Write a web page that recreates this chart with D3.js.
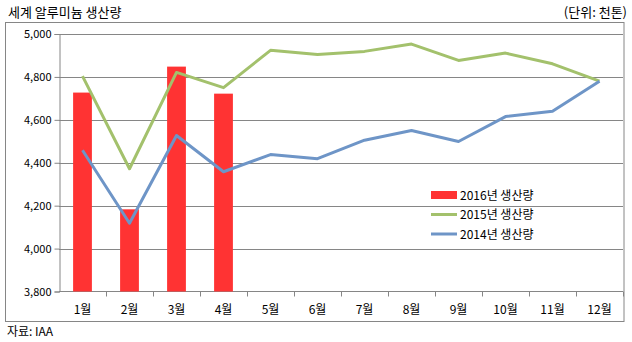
<!DOCTYPE html>
<html>
<head>
<meta charset="utf-8">
<script src="https://cdn.jsdelivr.net/npm/d3@7"></script>
<style>
  html, body { margin: 0; padding: 0; background: #fff; }
  svg { display: block; }
  text { font-family: "Noto Sans CJK KR", "Noto Sans", sans-serif; fill: #000; }
</style>
</head>
<body>
<svg id="chart" width="632" height="342"></svg>
<script>
// 월별 세계 알루미늄 생산량 (천톤)
const months = ["1월","2월","3월","4월","5월","6월","7월","8월","9월","10월","11월","12월"];
const prod2016 = [4727, 4183, 4848, 4722];
const prod2015 = [4804, 4372, 4821, 4750, 4924, 4905, 4919, 4953, 4877, 4911, 4861, 4780];
const prod2014 = [4458, 4118, 4527, 4358, 4438, 4419, 4505, 4550, 4499, 4615, 4640, 4780];
const yTicks = [3800, 4000, 4200, 4400, 4600, 4800, 5000];

const svg = d3.select("#chart");
const plot = { left: 59, right: 623, top: 34, bottom: 291.5 };

const x = d3.scaleBand().domain(months).range([plot.left, plot.right]).paddingInner(0).paddingOuter(0);
const y = d3.scaleLinear().domain([3800, 5000]).range([plot.bottom, plot.top]);

const grey = "#868686";

// 제목과 단위
svg.append("text").attr("x", 8).attr("y", 17).attr("font-size", 13).text("세계 알루미늄 생산량");
svg.append("text").attr("x", 627).attr("y", 17).attr("font-size", 13).attr("text-anchor", "end").text("(단위: 천톤)");

// 차트 테두리
svg.append("rect").attr("x", 5.5).attr("y", 22.5).attr("width", 618.5).attr("height", 299)
  .attr("fill", "none").attr("stroke", grey).attr("stroke-width", 1);

// 눈금선
svg.append("g").selectAll("line").data(yTicks.filter(d => d > 3800)).join("line")
  .attr("x1", plot.left).attr("x2", plot.right)
  .attr("y1", d => Math.round(y(d)) + 0.5).attr("y2", d => Math.round(y(d)) + 0.5)
  .attr("stroke", grey).attr("stroke-width", 1);

// Y축
const yAxis = d3.axisLeft(y).tickValues(yTicks).tickFormat(d3.format(",")).tickSize(5).tickPadding(3);
const gy = svg.append("g").attr("transform", `translate(${plot.left + 0.5},0)`).call(yAxis);
gy.select(".domain").attr("stroke", grey);
gy.selectAll(".tick line").attr("stroke", grey);
gy.selectAll(".tick text").attr("font-size", 11).attr("font-family", "\"Noto Sans CJK KR\", sans-serif");

// X축
const xAxis = d3.axisBottom(x).tickSize(0).tickPadding(14);
const gx = svg.append("g").attr("transform", `translate(0,${plot.bottom})`).call(xAxis);
gx.select(".domain").remove();
gx.selectAll(".tick text").attr("font-size", 12).attr("font-family", "\"Noto Sans CJK KR\", sans-serif");
svg.append("line").attr("x1", plot.left).attr("x2", plot.right)
  .attr("y1", plot.bottom).attr("y2", plot.bottom).attr("stroke", grey);
svg.append("g").selectAll("line").data(months.slice(1).concat(["end"])).join("line")
  .attr("x1", (d, i) => Math.round(plot.left + x.bandwidth() * (i + 1)) + 0.5)
  .attr("x2", (d, i) => Math.round(plot.left + x.bandwidth() * (i + 1)) + 0.5)
  .attr("y1", plot.bottom).attr("y2", plot.bottom + 5)
  .attr("stroke", grey);

// 2016년 막대
const barW = x.bandwidth() * 0.4;
svg.append("g").selectAll("rect").data(prod2016).join("rect")
  .attr("x", (d, i) => x(months[i]) + (x.bandwidth() - barW) / 2)
  .attr("y", d => y(d))
  .attr("width", barW)
  .attr("height", d => plot.bottom - y(d))
  .attr("fill", "#FF3333");

// 2015년, 2014년 선
const line = d3.line().x((d, i) => x(months[i]) + x.bandwidth() / 2).y(d => y(d));
svg.append("path").datum(prod2015).attr("d", line)
  .attr("fill", "none").attr("stroke", "#A3C16C").attr("stroke-width", 3).attr("stroke-linejoin", "round");
svg.append("path").datum(prod2014).attr("d", line)
  .attr("fill", "none").attr("stroke", "#6E95C7").attr("stroke-width", 3).attr("stroke-linejoin", "round");

// 범례
const legend = [
  { name: "2016년 생산량", color: "#FF3333", type: "bar" },
  { name: "2015년 생산량", color: "#A3C16C", type: "line" },
  { name: "2014년 생산량", color: "#6E95C7", type: "line" }
];
const lg = svg.append("g").attr("transform", "translate(430,195)");
legend.forEach((d, i) => {
  const row = lg.append("g").attr("transform", `translate(0,${i * 19.5})`);
  if (d.type === "bar") {
    row.append("rect").attr("x", 1).attr("y", -4).attr("width", 26).attr("height", 8).attr("fill", d.color);
  } else {
    row.append("line").attr("x1", 1).attr("x2", 27).attr("y1", 0).attr("y2", 0)
      .attr("stroke", d.color).attr("stroke-width", 3);
  }
  row.append("text").attr("x", 30).attr("y", 4.5).attr("font-size", 12).text(d.name);
});

// 출처
svg.append("text").attr("x", 7).attr("y", 336).attr("font-size", 12).text("자료: IAA");
</script>
</body>
</html>
